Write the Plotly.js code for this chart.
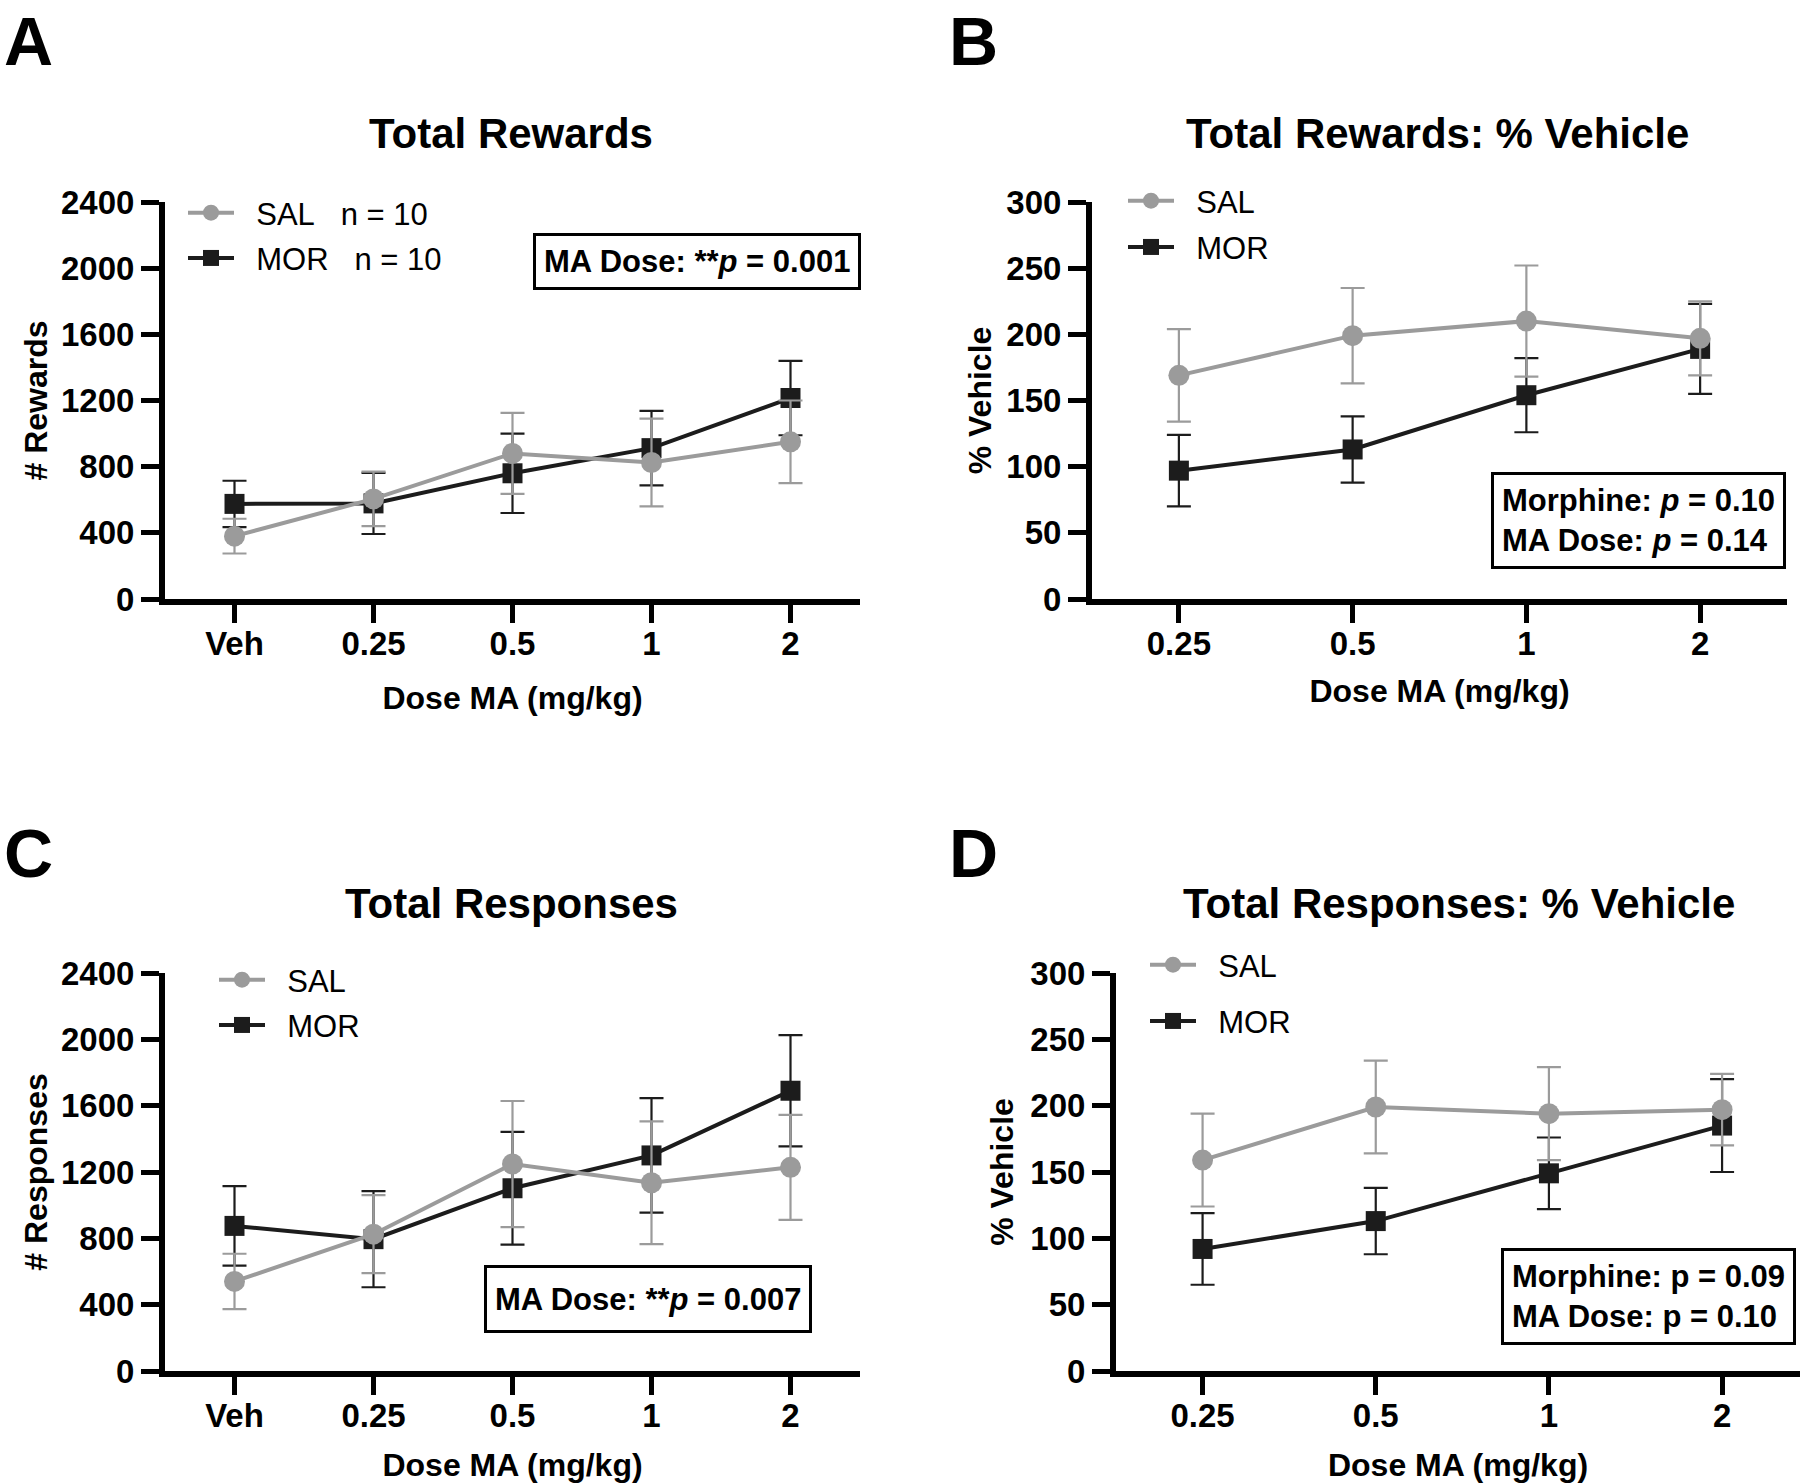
<!DOCTYPE html>
<html>
<head>
<meta charset="utf-8">
<script src="https://cdn.plot.ly/plotly-3.0.1.min.js"></script>
<style>
  body { margin: 0; background: #fff; }
  #plot { width: 1809px; height: 1483px; }
</style>
</head>
<body>
<div id="plot"></div>
<script>
// doses on the x axis
var doseVeh = ['Veh', '0.25', '0.5', '1', '2'];
var dosePct = ['0.25', '0.5', '1', '2'];

// A: total rewards (mean, SEM)
var rewardsSal = [380, 605, 880, 825, 950];
var rewardsSalErr = [105, 165, 245, 265, 250];
var rewardsMor = [575, 578, 760, 912, 1215];
var rewardsMorErr = [140, 185, 240, 225, 225];

// B: total rewards as % vehicle
var rewardsPctSal = [169, 199, 210, 197];
var rewardsPctSalErr = [35, 36, 42, 28];
var rewardsPctMor = [97, 113, 154, 189];
var rewardsPctMorErr = [27, 25, 28, 34];

// C: total responses
var responsesSal = [540, 825, 1248, 1135, 1228];
var responsesSalErr = [167, 235, 380, 370, 317];
var responsesMor = [875, 795, 1102, 1300, 1690];
var responsesMorErr = [240, 290, 340, 345, 335];

// D: total responses as % vehicle
var responsesPctSal = [159, 199, 194, 197];
var responsesPctSalErr = [35, 35, 35, 27];
var responsesPctMor = [92, 113, 149, 185];
var responsesPctMorErr = [27, 25, 27, 35];

var salColor = '#9b9b9b';
var morColor = '#1c1c1c';
var FONT = 'Liberation Sans, Arial, sans-serif';

var W = 1809, H = 1483;
function fx(p) { return p / W; }
function fy(p) { return 1 - p / H; }

function series(x, y, err, name, color, symbol, xa, ya, leg, rank) {
  return {
    x: x, y: y,
    type: 'scatter',
    mode: 'lines+markers',
    name: name,
    xaxis: xa, yaxis: ya,
    legend: leg,
    legendrank: rank,
    legendgroup: leg + name,
    line: {color: color, width: 4},
    marker: {color: color, symbol: symbol, size: symbol == 'square' ? 20 : 21},
    error_y: {type: 'data', array: err, visible: true, color: color, thickness: 2.2, width: 12},
    cliponaxis: false
  };
}

var sp = '\u00a0';
var data = [
  series(doseVeh, rewardsMor, rewardsMorErr, sp + sp + 'MOR' + sp + sp + sp + 'n = 10', morColor, 'square', 'x', 'y', 'legend', 2),
  series(doseVeh, rewardsSal, rewardsSalErr, sp + sp + 'SAL' + sp + sp + sp + 'n = 10', salColor, 'circle', 'x', 'y', 'legend', 1),
  series(dosePct, rewardsPctMor, rewardsPctMorErr, sp + sp + 'MOR', morColor, 'square', 'x2', 'y2', 'legend2', 2),
  series(dosePct, rewardsPctSal, rewardsPctSalErr, sp + sp + 'SAL', salColor, 'circle', 'x2', 'y2', 'legend2', 1),
  series(doseVeh, responsesMor, responsesMorErr, sp + sp + 'MOR', morColor, 'square', 'x3', 'y3', 'legend3', 2),
  series(doseVeh, responsesSal, responsesSalErr, sp + sp + 'SAL', salColor, 'circle', 'x3', 'y3', 'legend3', 1),
  series(dosePct, responsesPctMor, responsesPctMorErr, sp + sp + 'MOR', morColor, 'square', 'x4', 'y4', 'legend4', 2),
  series(dosePct, responsesPctSal, responsesPctSalErr, sp + sp + 'SAL', salColor, 'circle', 'x4', 'y4', 'legend4', 1)
];

function xaxis(cats, dom, anchor, range, standoff) {
  return {
    type: 'category', categoryorder: 'array', categoryarray: cats,
    domain: dom, anchor: anchor, range: range,
    showline: true, linecolor: '#000', linewidth: 6,
    ticks: 'outside', ticklen: 18, tickwidth: 5, tickcolor: '#000',
    ticklabelstandoff: -8,
    showgrid: false, zeroline: false, automargin: false,
    tickfont: {family: FONT, size: 33, color: '#000', weight: 'bold'},
    title: {text: 'Dose MA (mg/kg)', standoff: standoff,
            font: {family: FONT, size: 32, color: '#000', weight: 'bold'}}
  };
}
function yaxis(dom, anchor, range, dtick, title, standoff) {
  return {
    domain: dom, anchor: anchor, range: range, dtick: dtick, tick0: 0,
    showline: true, linecolor: '#000', linewidth: 6,
    ticks: 'outside', ticklen: 18, tickwidth: 5, tickcolor: '#000',
    showgrid: false, zeroline: false, automargin: false,
    tickfont: {family: FONT, size: 33, color: '#000', weight: 'bold'},
    title: {text: title, standoff: standoff,
            font: {family: FONT, size: 32, color: '#000', weight: 'bold'}}
  };
}
function legend(x, y, gap) {
  return {
    x: fx(x), y: fy(y), xanchor: 'left', yanchor: 'top',
    traceorder: 'grouped', tracegroupgap: gap, itemwidth: 46,
    bgcolor: 'rgba(0,0,0,0)',
    font: {family: FONT, size: 31, color: '#000'}
  };
}

var rowTop = [fy(599), fy(202)];
var rowBot = [fy(1371), fy(973)];

var layout = {
  width: W, height: H,
  margin: {l: 0, r: 0, t: 0, b: 0},
  paper_bgcolor: '#fff', plot_bgcolor: '#fff',
  font: {family: FONT, color: '#000'},
  xaxis: xaxis(doseVeh, [fx(165), fx(860)], 'y', [-0.5, 4.5], 28),
  yaxis: yaxis(rowTop, 'x', [0, 2400], 400, '# Rewards', 6),
  xaxis2: xaxis(dosePct, [fx(1092), fx(1787)], 'y2', [-0.5, 3.5], 21),
  yaxis2: yaxis(rowTop, 'x2', [0, 300], 50, '% Vehicle', 7),
  xaxis3: xaxis(doseVeh, [fx(165), fx(860)], 'y3', [-0.5, 4.5], 28),
  yaxis3: yaxis(rowBot, 'x3', [0, 2400], 400, '# Responses', 6),
  xaxis4: xaxis(dosePct, [fx(1116), fx(1800)], 'y4', [-0.5, 3.45], 34),
  yaxis4: yaxis(rowBot, 'x4', [0, 300], 50, '% Vehicle', 9),
  legend: legend(183, 186, 2),
  legend2: legend(1123, 174, 3),
  legend3: legend(214, 953, 2),
  legend4: legend(1145, 938, 13),
  showlegend: true,
  annotations: []
};

function text(x, y, s, size, extra) {
  var a = {
    xref: 'paper', yref: 'paper', x: fx(x), y: fy(y),
    xanchor: 'center', yanchor: 'middle', showarrow: false, text: s,
    font: {family: FONT, size: size, color: '#000', weight: 'bold'}
  };
  for (var k in extra) a[k] = extra[k];
  return a;
}
var boxStyle = {bordercolor: '#000', borderwidth: 3, borderpad: 8, bgcolor: '#fff', align: 'left'};
var boxTall = {bordercolor: '#000', borderwidth: 3, borderpad: 8, bgcolor: '#fff', align: 'left', height: 46};

layout.annotations.push(
  text(28, 41, 'A', 68), text(973, 41, 'B', 68),
  text(28, 853, 'C', 68), text(973, 853, 'D', 68),
  text(511, 133, 'Total Rewards', 42),
  text(1437, 133, 'Total Rewards: % Vehicle', 42),
  text(511, 903, 'Total Responses', 42),
  text(1459, 903, 'Total Responses: % Vehicle', 42),
  text(697, 261, 'MA Dose: **<i>p</i> = 0.001', 31, boxStyle),
  text(1638, 521, 'Morphine: <i>p</i> = 0.10<br>MA Dose: <i>p</i> = 0.14', 31, boxStyle),
  text(648, 1299, 'MA Dose: **<i>p</i> = 0.007', 31, boxTall),
  text(1648, 1296, 'Morphine: p = 0.09<br>MA Dose: p = 0.10', 31, boxStyle)
);

Plotly.newPlot('plot', data, layout, {staticPlot: true});
</script>
</body>
</html>
